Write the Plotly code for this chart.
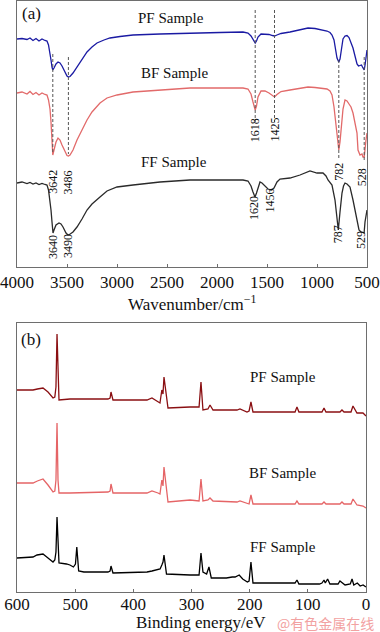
import plotly.graph_objects as go

# ---------------- Panel (a): FTIR ----------------
ftir_pf_wn = [4000, 3950, 3900, 3870, 3840, 3810, 3780, 3750, 3720, 3700, 3685, 3670, 3660, 3650, 3642, 3630, 3610, 3590, 3570, 3550, 3520, 3500, 3486, 3470, 3440, 3400, 3350, 3300, 3250, 3200, 3130, 3070, 2970, 2840, 2570, 2270, 1970, 1740, 1690, 1660, 1640, 1618, 1605, 1590, 1560, 1520, 1480, 1445, 1425, 1400, 1360, 1270, 1170, 1090, 1020, 950, 900, 870, 850, 830, 815, 800, 782, 770, 755, 740, 720, 700, 680, 660, 640, 620, 600, 585, 570, 555, 545, 535, 528, 518, 508, 500]
ftir_pf_y = [228, 228.5, 227.5, 229, 226.5, 228.5, 226, 228, 226.5, 226, 222, 215, 207, 200, 197, 199, 203, 205, 204, 201, 194, 191, 190, 190.5, 194, 200, 208, 215, 220, 224, 227, 229, 230.5, 232, 233, 234, 234.5, 235, 234, 231, 227, 224, 226, 230, 233, 233, 232.5, 231.5, 231, 232, 233.5, 235, 237, 239, 238.5, 237, 236, 234.5, 232, 227, 218, 209, 205, 208, 218, 228, 231, 231.5, 229.5, 225, 219, 211, 203, 201, 201.5, 202, 200, 198, 197, 203, 211, 217]

ftir_bf_wn = [4000, 3950, 3900, 3870, 3840, 3810, 3780, 3750, 3720, 3700, 3685, 3670, 3660, 3650, 3642, 3630, 3610, 3590, 3570, 3550, 3520, 3500, 3486, 3470, 3440, 3400, 3350, 3300, 3250, 3200, 3170, 3100, 3000, 2840, 2570, 2270, 1970, 1740, 1690, 1660, 1640, 1618, 1605, 1590, 1560, 1520, 1480, 1445, 1425, 1400, 1360, 1270, 1170, 1090, 1020, 950, 900, 870, 850, 830, 815, 800, 782, 770, 755, 740, 720, 700, 680, 660, 640, 620, 600, 590, 570, 550, 540, 528, 520, 510, 500]
ftir_bf_y = [174, 175, 173, 175.5, 172.5, 174.5, 172, 174, 172.5, 172, 167, 158, 145, 125, 112, 117, 125, 129, 127, 122, 115, 111.5, 111, 112, 117, 127, 137, 147, 155, 160, 164, 169, 172, 175, 177, 179, 179, 179, 178, 173, 165, 157, 161, 170, 176, 176, 174, 171, 170, 172.5, 175.5, 177, 179, 180, 179.5, 179, 178, 176, 172, 160, 145, 128, 117, 125, 143, 158, 167, 166, 163, 160, 154, 144, 134, 117, 112, 113, 110, 110, 120, 127, 134]

ftir_ff_wn = [4000, 3950, 3900, 3870, 3840, 3810, 3780, 3750, 3720, 3700, 3685, 3670, 3660, 3650, 3640, 3630, 3610, 3580, 3560, 3540, 3510, 3490, 3475, 3440, 3400, 3350, 3300, 3250, 3200, 3170, 3100, 3000, 2840, 2570, 2270, 1970, 1740, 1690, 1660, 1640, 1620, 1605, 1585, 1570, 1550, 1520, 1490, 1456, 1430, 1400, 1370, 1270, 1170, 1070, 1000, 940, 910, 890, 870, 850, 820, 805, 787, 770, 750, 735, 720, 700, 670, 640, 620, 600, 580, 560, 540, 529, 520, 510, 500]
ftir_ff_y = [84, 85, 83.5, 84.5, 83, 84, 82.5, 83.5, 82.5, 82, 77, 67, 57, 45, 34, 37, 42, 44, 43, 40, 34, 32, 32.5, 35, 40, 48, 57, 63, 67, 70, 76, 80, 82, 85, 87, 87, 87, 86, 81, 75, 70, 74, 82, 85, 84, 81, 78, 77, 79, 85, 88, 89, 92, 96, 94, 94, 91, 87, 85, 82, 67, 52, 37, 55, 74, 81, 84, 83, 80, 67, 57, 47, 37, 35, 34, 34, 45, 52, 57]

# peak markers (a)
bf_peak_labels = ["3642", "3486", "1618", "1425", "782", "528"]
bf_peak_wn = [3642, 3486, 1618, 1425, 782, 528]
ff_peak_labels = ["3640", "3490", "1620", "1456", "787", "529"]
ff_peak_wn = [3640, 3490, 1620, 1456, 787, 529]

# ---------------- Panel (b): XPS ----------------
xps_pf_ev = [600, 572.5, 565, 555.3, 546.7, 538.1, 535, 533, 531.2, 529.5, 527.8, 508.9, 443.6, 440, 438.4, 435, 376.5, 368, 357.6, 354.2, 351, 349, 347.3, 344, 340.4, 302.6, 287, 283.7, 280.3, 271.7, 268.2, 263, 221.8, 216.7, 204.6, 201, 197.8, 194.3, 122, 118.7, 115.3, 75.7, 72.2, 68.8, 44.8, 41.3, 37.8, 25.8, 22.4, 15.5, 5.2, 0]
xps_pf_y = [202, 202, 203, 204, 200, 194, 195, 205, 258, 205, 192, 193, 193, 194, 200, 192, 192, 194, 190, 189, 202, 198, 215, 200, 184, 185, 185, 210, 182, 183, 187, 182, 182, 183, 180, 181, 190, 180, 180, 185, 180, 180, 184, 180, 180, 182, 180, 180, 186, 179, 179, 176]

xps_bf_ev = [600, 572.5, 565, 555.3, 546.7, 538.1, 535, 533, 531.2, 529.5, 527.8, 508.9, 443.6, 440, 438.4, 435, 376.5, 368, 357.6, 354.2, 351, 349, 347.3, 344, 340.4, 302.6, 287, 283.7, 280.3, 271.7, 268.2, 263, 221.8, 216.7, 204.6, 201, 197.8, 194.3, 122, 118.7, 115.3, 75.7, 72.2, 68.8, 44.8, 41.3, 37.8, 25.8, 22.4, 15.5, 5.2, 0]
xps_bf_y = [109, 109, 111, 113, 107, 100, 101, 112, 169, 112, 99, 99, 100, 101, 108, 99, 99, 101, 99, 98, 112, 106, 125, 108, 90, 92, 91, 113, 91, 92, 94, 91, 90, 91, 89, 88, 97, 88, 88, 91, 88, 88, 90, 88, 88, 90, 88, 88, 93, 87, 86, 84]

xps_ff_ev = [600, 572.5, 565.6, 555.3, 546.7, 538.1, 535, 533, 531.2, 529.5, 527.8, 515, 509, 503, 499.5, 497.2, 495, 494, 485, 443.6, 440, 438.4, 435, 376.5, 368, 357.6, 354, 351, 349, 347.3, 345, 343, 302.6, 287, 283.7, 280.3, 274, 270, 266, 240, 230, 225, 218, 212, 204, 201, 197.8, 194.3, 122, 118.7, 115.3, 80, 75.7, 72.2, 70, 66, 62, 48, 44.8, 41.3, 36, 27, 24, 21, 15, 10, 5, 0]
xps_ff_y = [34, 35, 37, 38, 34, 30, 32, 40, 75, 40, 29, 28, 27, 25, 28, 45, 28, 21, 20, 20, 21, 26, 19, 20, 21, 23, 23, 27, 30, 37, 27, 18, 17, 17, 39, 20, 18, 25, 14, 14, 15, 15, 17, 13, 10, 11, 30, 9, 9, 12, 8, 8, 9, 12, 9, 13, 8, 8, 11, 9, 7, 8, 13, 7, 9, 6, 7, 5]

sample_names = ["PF Sample", "BF Sample", "FF Sample"]

FONT = "Liberation Serif"
AXCOL = "#6e6e6e"

fig = go.Figure()

# FTIR curves
for wn, yy, col in [(ftir_pf_wn, ftir_pf_y, "#1a1aa3"),
                    (ftir_bf_wn, ftir_bf_y, "#e26a6a"),
                    (ftir_ff_wn, ftir_ff_y, "#2a2a2a")]:
    fig.add_trace(go.Scatter(x=wn, y=yy, mode="lines", line=dict(color=col, width=1.3),
                             xaxis="x", yaxis="y", showlegend=False, hoverinfo="skip"))

# dashed guide lines (a): (wavenumber, y_top, y_bottom)
guide_tops = [213, 210, 257, 257, 207, 210]
guide_bottoms = [113, 113, 145, 145, 107, 107]
for wn, yt, yb in zip(bf_peak_wn, guide_tops, guide_bottoms):
    fig.add_trace(go.Scatter(x=[wn, wn], y=[yt, yb], mode="lines",
                             line=dict(color="#555555", width=1, dash="3px,2px"),
                             xaxis="x", yaxis="y", showlegend=False, hoverinfo="skip"))

# XPS curves
for ev, yy, col in [(xps_pf_ev, xps_pf_y, "#8a0f12"),
                    (xps_bf_ev, xps_bf_y, "#e56466"),
                    (xps_ff_ev, xps_ff_y, "#000000")]:
    fig.add_trace(go.Scatter(x=ev, y=yy, mode="lines", line=dict(color=col, width=1.3),
                             xaxis="x2", yaxis="y2", showlegend=False, hoverinfo="skip"))

ann = []


def add_ann(**kw):
    base = dict(showarrow=False, xanchor="center", yanchor="middle")
    base.update(kw)
    ann.append(base)


# sample names (a)
for name, xv, yv in zip(sample_names, [2460, 2430, 2430], [249, 194, 105]):
    add_ann(text=name, x=xv, y=yv, xref="x", yref="y",
            font=dict(family=FONT, size=15, color="#111"))
# sample names (b)
for name, yv in zip(sample_names, [215, 119, 45]):
    add_ann(text=name, x=143, y=yv, xref="x2", yref="y2",
            font=dict(family=FONT, size=15, color="#111"))
# peak labels (a)
bf_label_y = [85, 85, 137, 137, 95, 90]
bf_label_shift = [0, 0, 0, 0, 0, -2]
for t, xv, yv, sh in zip(bf_peak_labels, bf_peak_wn, bf_label_y, bf_label_shift):
    add_ann(text=t, x=xv, y=yv, xref="x", yref="y", textangle=-90, xshift=sh,
            font=dict(family=FONT, size=12, color="#111"))
ff_label_y = [20, 21, 59, 67, 33, 27]
ff_label_shift = [0, 0, -1, -1, 0, -3]
for t, xv, yv, sh in zip(ff_peak_labels, ff_peak_wn, ff_label_y, ff_label_shift):
    add_ann(text=t, x=xv, y=yv, xref="x", yref="y", textangle=-90, xshift=sh,
            font=dict(family=FONT, size=12, color="#111"))

# panel letters
add_ann(text="(a)", x=31/380, y=1-13/632, xref="paper", yref="paper",
        font=dict(family=FONT, size=17, color="#111"))
add_ann(text="(b)", x=31/380, y=1-339/632, xref="paper", yref="paper",
        font=dict(family=FONT, size=17, color="#111"))
# axis titles
add_ann(text="Wavenumber/cm<sup>−1</sup>", x=192/380, y=1-303/632, xref="paper", yref="paper",
        font=dict(family=FONT, size=17, color="#111"))
add_ann(text="Binding energy/eV", x=201/380, y=1-622/632, xref="paper", yref="paper",
        font=dict(family=FONT, size=17, color="#111"))
# watermark
add_ann(text="@有色金属在线", x=276/380, y=1-623/632, xref="paper", yref="paper",
        xanchor="left", borderpad=0,
        font=dict(family="Noto Sans CJK SC", size=14, color="#f2a2a2"))

axis_common = dict(showline=True, mirror=True, linecolor=AXCOL, linewidth=1.2,
                   showgrid=False, zeroline=False, automargin=False)

fig.update_layout(
    template="none",
    width=380, height=632,
    margin=dict(l=0, r=0, t=0, b=0, pad=0, autoexpand=False),
    paper_bgcolor="white", plot_bgcolor="white",
    xaxis=dict(domain=[17/380, 367/380], range=[4000, 500], anchor="y",
               tickmode="array", tickvals=[4000, 3500, 3000, 2500, 2000, 1500, 1000, 500],
               ticks="inside", ticklen=3, tickcolor=AXCOL, ticklabelstandoff=-1,
               tickfont=dict(family=FONT, size=17, color="#111"), **axis_common),
    yaxis=dict(domain=[1-267/632, 1-1/632], range=[0, 266], anchor="x",
               showticklabels=False, ticks="", **axis_common),
    xaxis2=dict(domain=[17/380, 366/380], range=[600, 0], anchor="y2",
                tickmode="array", tickvals=[600, 500, 400, 300, 200, 100, 0],
                ticks="inside", ticklen=3, tickcolor=AXCOL, ticklabelstandoff=-4,
                tickfont=dict(family=FONT, size=17, color="#111"), **axis_common),
    yaxis2=dict(domain=[1-592/632, 1-323/632], range=[0, 269], anchor="x2",
                showticklabels=False, ticks="", **axis_common),
    annotations=ann,
)

fig.write_html("out.html", config={"displayModeBar": False},
               post_script="document.body.style.margin='0px';document.body.style.overflow='hidden';")
